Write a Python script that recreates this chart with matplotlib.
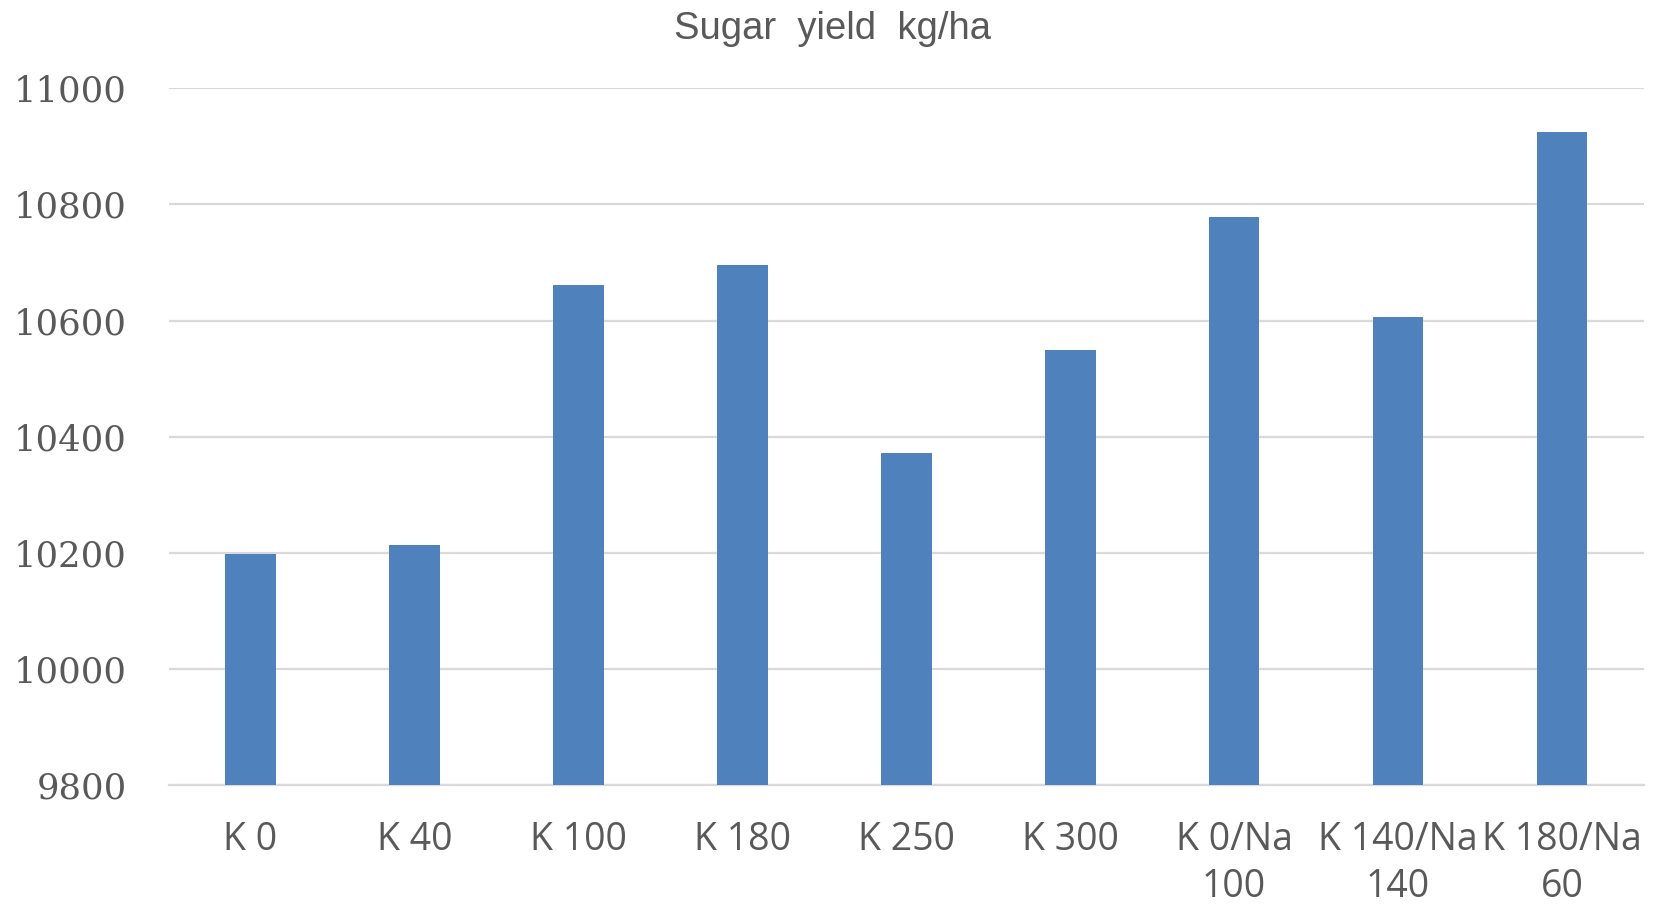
import matplotlib
matplotlib.use("Agg")
import matplotlib.pyplot as plt
import numpy as np

# Sugar yield per treatment (kg/ha)
treatments = ["K 0", "K 40", "K 100", "K 180", "K 250", "K 300",
              "K 0/Na\n100", "K 140/Na\n140", "K 180/Na\n60"]
sugar_yield = [10199, 10213, 10662, 10695, 10372, 10550, 10779, 10607, 10925]
y_ticks = [9800, 10000, 10200, 10400, 10600, 10800, 11000]

bar_color = "#4F81BD"
text_color = "#595959"
grid_color = "#D9D9D9"

fig = plt.figure(figsize=(16.62, 9.07), dpi=100)
ax = fig.add_axes([0.1014, 0.1342, 0.8877, 0.7684])

x = np.arange(len(treatments))
ax.bar(x, sugar_yield, width=0.31, color=bar_color, zorder=3)

ax.set_xlim(-0.5, len(treatments) - 0.5)
ax.set_ylim(9800, 11000)
ax.set_yticks(y_ticks)
ax.set_yticklabels([str(v) for v in y_ticks], family="DejaVu Serif",
                   fontsize=25.5, color=text_color)
ax.set_xticks(x)
ax.set_xticklabels(treatments, family="Open Sans", fontsize=27, color=text_color,
                   linespacing=1.28)

ax.tick_params(axis="y", length=0, pad=30)
ax.tick_params(axis="x", length=0, pad=26)

ax.grid(axis="y", color=grid_color, linewidth=1.6, zorder=0)
for side in ["top", "right", "left"]:
    ax.spines[side].set_visible(False)
ax.spines["bottom"].set_color(grid_color)
ax.spines["bottom"].set_linewidth(1.6)

fig.text(0.501, 0.968, "Sugar  yield  kg/ha", ha="center", va="center",
         family="Liberation Sans", fontsize=27.5, color=text_color)

fig.savefig("out.png", dpi=100)
